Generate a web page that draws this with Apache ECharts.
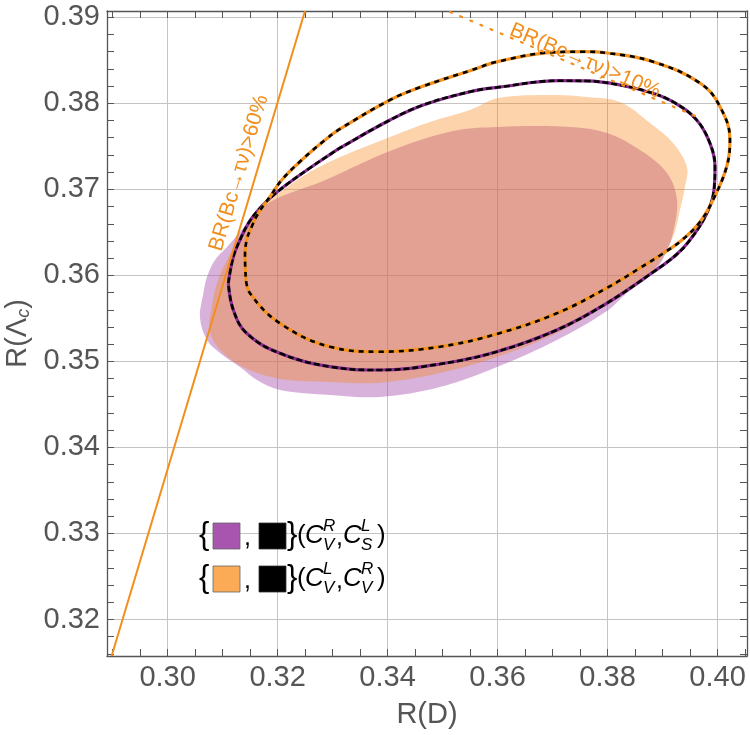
<!DOCTYPE html>
<html>
<head>
<meta charset="utf-8">
<script src="https://cdn.jsdelivr.net/npm/echarts@6/dist/echarts.min.js"></script>
<style>
  html, body { margin: 0; padding: 0; background: #fff; }
  #chart { width: 750px; height: 735px; }
</style>
</head>
<body>
<div id="chart"></div>
<script>
// axis ticks
var xMajor = [0.30, 0.32, 0.34, 0.36, 0.38, 0.40];
var xTicks = [0.290, 0.295, 0.300, 0.305, 0.310, 0.315, 0.320, 0.325, 0.330, 0.335, 0.340, 0.345,
              0.350, 0.355, 0.360, 0.365, 0.370, 0.375, 0.380, 0.385, 0.390, 0.395, 0.400, 0.405];
var yMajor = [0.32, 0.33, 0.34, 0.35, 0.36, 0.37, 0.38, 0.39];
var yTicks = [0.316, 0.318, 0.320, 0.322, 0.324, 0.326, 0.328, 0.330, 0.332, 0.334, 0.336, 0.338,
              0.340, 0.342, 0.344, 0.346, 0.348, 0.350, 0.352, 0.354, 0.356, 0.358, 0.360, 0.362,
              0.364, 0.366, 0.368, 0.370, 0.372, 0.374, 0.376, 0.378, 0.380, 0.382, 0.384, 0.386,
              0.388, 0.390];

// allowed region (C_V^R, C_S^L) - purple
var purpleRegion = [
  [0.30589, 0.35505], [0.30644, 0.35772], [0.30716, 0.35982], [0.30862, 0.36179], [0.31080, 0.36330],
  [0.31407, 0.36574], [0.31716, 0.36783], [0.32044, 0.36911], [0.32825, 0.37097], [0.34044, 0.37446],
  [0.35189, 0.37678], [0.36007, 0.37725], [0.37316, 0.37725], [0.37989, 0.37655], [0.38589, 0.37457],
  [0.39080, 0.37190], [0.39262, 0.36876], [0.39189, 0.36493], [0.39044, 0.36237], [0.38825, 0.36028],
  [0.38353, 0.35795], [0.37989, 0.35586], [0.37080, 0.35249], [0.35989, 0.34935], [0.34953, 0.34703],
  [0.33862, 0.34587], [0.32953, 0.34610], [0.32044, 0.34668], [0.31625, 0.34784], [0.31316, 0.34935],
  [0.30953, 0.35098], [0.30716, 0.35249]
];
// allowed region (C_V^L, C_V^R) - orange
var orangeRegion = [
  [0.30771, 0.35342], [0.30807, 0.35656], [0.30916, 0.35947], [0.31098, 0.36202], [0.31316, 0.36458],
  [0.31589, 0.36690], [0.32044, 0.36969], [0.32825, 0.37283], [0.34044, 0.37609], [0.34771, 0.37783],
  [0.35498, 0.37922], [0.36007, 0.38062], [0.37007, 0.38097], [0.37625, 0.38074], [0.38225, 0.38015],
  [0.38771, 0.37771], [0.39189, 0.37539], [0.39444, 0.37260], [0.39407, 0.37027], [0.39316, 0.36760],
  [0.39189, 0.36446], [0.38825, 0.36051], [0.38407, 0.35830], [0.37989, 0.35656], [0.37080, 0.35330],
  [0.35989, 0.35051], [0.34953, 0.34865], [0.33862, 0.34753], [0.32953, 0.34761], [0.32044, 0.34796],
  [0.31407, 0.34923], [0.30989, 0.35109]
];
// contours
var purpleContour = [
  [0.31104, 0.35908], [0.31195, 0.36217], [0.31316, 0.36411], [0.31467, 0.36605], [0.31649, 0.36760],
  [0.31893, 0.36915], [0.32195, 0.37070], [0.32620, 0.37263], [0.32984, 0.37419], [0.33135, 0.37481],
  [0.34044, 0.37806], [0.34649, 0.37981],
  [0.35498, 0.38135], [0.36002, 0.38186], [0.37135, 0.38263], [0.37620, 0.38260], [0.38225, 0.38213],
  [0.38825, 0.38117], [0.39225, 0.38004], [0.39620, 0.37806], [0.39862, 0.37535], [0.39953, 0.37263],
  [0.39935, 0.36993], [0.39789, 0.36702], [0.39498, 0.36411], [0.39244, 0.36237], [0.38831, 0.36039],
  [0.37984, 0.35676], [0.37075, 0.35365], [0.35984, 0.35113], [0.34953, 0.34970], [0.33862, 0.34900],
  [0.32953, 0.34939], [0.32044, 0.35094], [0.31438, 0.35327], [0.31195, 0.35598]
];
var orangeContour = [
  [0.31420, 0.35985], [0.31407, 0.36217], [0.31438, 0.36411], [0.31529, 0.36566], [0.31649, 0.36722],
  [0.31862, 0.36915], [0.32075, 0.37109], [0.32438, 0.37341], [0.32862, 0.37574], [0.33135, 0.37702],
  [0.34044, 0.38039], [0.34589, 0.38186], [0.35498, 0.38379],
  [0.36002, 0.38484], [0.37007, 0.38593], [0.37553, 0.38600], [0.37989, 0.38585], [0.38825, 0.38484],
  [0.39680, 0.38236], [0.40044, 0.37961], [0.40225, 0.37574], [0.40165, 0.37263], [0.39916, 0.36876],
  [0.39680, 0.36621], [0.39353, 0.36411], [0.38993, 0.36249], [0.38589, 0.36086], [0.37984, 0.35853],
  [0.37075, 0.35559], [0.35984, 0.35319], [0.34953, 0.35171], [0.33862, 0.35113], [0.32953, 0.35171],
  [0.32044, 0.35443], [0.31498, 0.35792]
];
// BR(Bc -> tau nu) bounds
var br60Line = [[0.28982, 0.31576], [0.32498, 0.39073]];
var br10Line = [[0.35135, 0.39062], [0.39680, 0.37829]];

var FONT = '"Liberation Sans", Arial, sans-serif';
var GREY = '#555555';

function closed(pts) { return pts.concat([pts[0]]); }

function regionSeries(pts, color) {
  return {
    type: 'custom',
    data: pts,
    silent: true,
    renderItem: function (params, api) {
      if (params.dataIndex !== 0) return null;
      var poly = pts.map(function (p) { return api.coord(p); });
      return {
        type: 'polygon',
        shape: { points: poly, smooth: 0.35 },
        style: { fill: color, stroke: null }
      };
    }
  };
}

function contourSeries(pts, color, dash) {
  return [{
    type: 'line', data: closed(pts), smooth: 0.4, symbol: 'none', silent: true,
    lineStyle: { color: color, width: 3.2 }
  }, {
    type: 'line', data: closed(pts), smooth: 0.4, symbol: 'none', silent: true,
    lineStyle: { color: '#000', width: 2.6, type: dash }
  }];
}

function legendRow(cy, swatch, s1, b1, s2, b2) {
  var it = 'italic';
  function t(x, y, txt, size, style) {
    return { type: 'text', z: 100, x: x, y: y, style: { text: txt, fill: '#000', fontFamily: FONT, fontSize: size,
             fontStyle: style || 'normal', align: 'left', verticalAlign: 'middle' } };
  }
  return [
    t(199, cy - 1, '{', 31),
    { type: 'rect', z: 100, shape: { x: 213, y: cy - 13, width: 27, height: 26 }, style: { fill: swatch, stroke: '#666', lineWidth: 0.8 } },
    t(244, cy + 2, ',', 25),
    { type: 'rect', z: 100, shape: { x: 259, y: cy - 13, width: 27, height: 26 }, style: { fill: '#000', stroke: '#333', lineWidth: 0.8 } },
    t(287, cy - 1, '}', 31),
    t(297, cy, '(', 26),
    t(305, cy, 'C', 26, it),
    t(323, cy - 10, s1, 17, it),
    t(323, cy + 9, b1, 17, it),
    t(336, cy + 2, ',', 25),
    t(343, cy, 'C', 26, it),
    t(361, cy - 10, s2, 17, it),
    t(361, cy + 9, b2, 17, it),
    t(377, cy, ')', 26)
  ];
}

var chart = echarts.init(document.getElementById('chart'), null, { renderer: 'canvas' });

function xAxisBase(pos) {
  return {
    type: 'value', position: pos, min: 0.28898, max: 0.40535, scale: true,
    axisLine: { show: true, onZero: false, lineStyle: { color: GREY, width: 1.3 } },
    axisTick: { show: true, inside: true, length: 7, customValues: xTicks, lineStyle: { color: GREY, width: 1 } },
    axisLabel: { show: false },
    splitLine: { show: false }
  };
}
function yAxisBase(pos) {
  return {
    type: 'value', position: pos, min: 0.31576, max: 0.39073, scale: true,
    axisLine: { show: true, onZero: false, lineStyle: { color: GREY, width: 1.3 } },
    axisTick: { show: true, inside: true, length: 7, customValues: yTicks, lineStyle: { color: GREY, width: 1 } },
    axisLabel: { show: false },
    splitLine: { show: false }
  };
}

var xBottom = xAxisBase('bottom');
xBottom.axisLabel = {
  show: true, customValues: xMajor, margin: 7, color: GREY, fontSize: 29, fontFamily: FONT,
  formatter: function (v) { return v.toFixed(2); }
};
xBottom.name = 'R(D)';
xBottom.nameLocation = 'middle';
xBottom.nameGap = 44;
xBottom.nameTextStyle = { color: GREY, fontSize: 29, fontFamily: FONT };

var xGrid = xAxisBase('bottom');
xGrid.axisLine = { show: false };
xGrid.axisTick = { show: false, customValues: xMajor };
xGrid.splitLine = { show: true, lineStyle: { color: '#c4c4c4', width: 1 } };

var yLeft = yAxisBase('left');
yLeft.axisLabel = {
  show: true, customValues: yMajor, margin: 7, color: GREY, fontSize: 29, fontFamily: FONT,
  formatter: function (v) { return v.toFixed(2); }
};
yLeft.name = '{n|R(Λ}{s|c}{n|)}';
yLeft.nameLocation = 'middle';
yLeft.nameGap = 74;
yLeft.nameTextStyle = {
  color: GREY, fontFamily: FONT,
  rich: {
    n: { color: GREY, fontSize: 29, fontFamily: FONT, lineHeight: 30 },
    s: { color: GREY, fontSize: 18, fontFamily: FONT, fontStyle: 'italic', verticalAlign: 'bottom', lineHeight: 22 }
  }
};

var yGrid = yAxisBase('left');
yGrid.axisLine = { show: false };
yGrid.axisTick = { show: false, customValues: yMajor };
yGrid.splitLine = { show: true, lineStyle: { color: '#c4c4c4', width: 1 } };

var series = [
  regionSeries(purpleRegion, 'rgba(168,84,176,0.45)'),
  regionSeries(orangeRegion, 'rgba(246,129,15,0.35)')
].concat(
  contourSeries(purpleContour, '#8a2a90', [6, 3]),
  contourSeries(orangeContour, '#f5921e', [5, 5])
).concat([
  { type: 'line', data: br60Line, symbol: 'none', silent: true, lineStyle: { color: '#f28e1c', width: 2 } },
  { type: 'line', data: br10Line, symbol: 'none', silent: true,
    lineStyle: { color: '#f28e1c', width: 2.2, type: [2, 9], cap: 'round' } }
]);

var graphics = [
  { type: 'text', z: 100, x: 239, y: 173, rotation: 73.3 * Math.PI / 180,
    style: { text: 'BR(Bc\u2192\u03c4\u03bd)>60%', fill: '#f28e1c', fontFamily: FONT, fontSize: 21,
             align: 'center', verticalAlign: 'middle' } },
  { type: 'text', z: 100, x: 585, y: 61, rotation: -23.2 * Math.PI / 180,
    style: { text: 'BR(Bc\u2192\u03c4\u03bd)>10%', fill: '#f28e1c', fontFamily: FONT, fontSize: 21,
             align: 'center', verticalAlign: 'middle' } }
].concat(
  legendRow(536, '#a855b0', 'R', 'V', 'L', 'S'),
  legendRow(579, '#fbab55', 'L', 'V', 'R', 'V')
);

var option = {
  animation: false,
  backgroundColor: '#fff',
  grid: { left: 107, right: 3, top: 11, bottom: 79, containLabel: false, outerBoundsMode: 'none' },
  xAxis: [xBottom, xAxisBase('top'), xGrid],
  yAxis: [yLeft, yAxisBase('right'), yGrid],
  series: series,
  graphic: graphics
};
chart.setOption(option);
</script>
</body>
</html>
